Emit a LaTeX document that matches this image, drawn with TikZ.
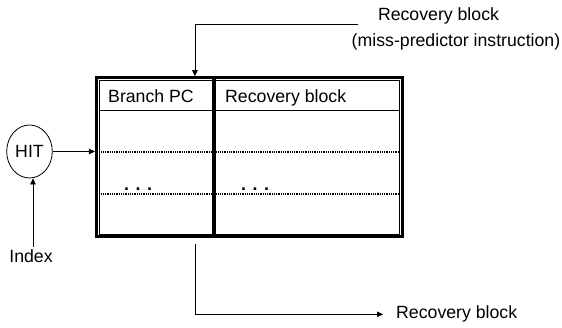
\documentclass[tikz,border=0pt]{standalone}
\usepackage{fontspec}
\setmainfont{Liberation Sans}
\usetikzlibrary{arrows.meta}
\usetikzlibrary{positioning}
\usetikzlibrary{shapes.geometric}

\begin{document}
\begin{tikzpicture}[
    x=1pt, y=-1pt,
    font=\fontsize{17.7}{20}\selectfont,
    frame/.style={
        rectangle,
        draw,
        line width=3.2pt,
        minimum width=305.8pt,
        minimum height=159pt,
        inner sep=0pt
    },
    innerframe/.style={
        rectangle,
        draw,
        line width=0.9pt,
        minimum width=300.2pt,
        minimum height=153.4pt,
        inner sep=0pt
    },
    hitbox/.style={
        ellipse,
        draw,
        line width=0.8pt,
        minimum width=45.6pt,
        minimum height=53pt,
        inner sep=0pt
    },
    label/.style={
        inner sep=0pt
    },
    dotrow/.style={
        dash pattern=on 1pt off 0.8pt
    }
]
    \useasboundingbox (0,0) rectangle (562,327);

    % Tabla
    \node (tbl) [frame] at (249.4,157.3) {};
    \node (tblin) [innerframe] at (249.4,157.3) {};
    \draw [line width=1.6pt] (99.3,110.5) -- (399.5,110.5);
    \draw [dotrow, line width=1.7pt] (99.3,152) -- (399.5,152);
    \draw [dotrow, line width=1.1pt] (99.3,194) -- (399.5,194);
    \draw [line width=3.2pt] (214,77.8) -- (214,236.8);

    \node (pc) [label, anchor=base west] at (108,102.5) {Branch PC};
    \node (rb) [label, anchor=base west] at (225,102.5) {Recovery block};
    \node (dotsa) [label, anchor=base] at (138,190) {\textbf{. . .}};
    \node (dotsb) [label, anchor=base] at (255,190) {\textbf{. . .}};

    \node (hit) [hitbox] at (29.5,151.5) {HIT};
    \node (index) [label, anchor=base] at (31,262.7) {Index};

    \node (rbtop) [label, anchor=base] at (438.5,20.7) {Recovery block};
    \node (rbnote) [label, anchor=base] at (456,46.7) {(miss-predictor instruction)};
    \coordinate (rbin) at (358,24.3);

    \coordinate (rbend) at (383,314.3);
    \node (rbout) [label, right=13pt of rbend] {Recovery block};

    % Conexiones con flechas
    \draw [-{Triangle[length=6pt,width=5.5pt]}, line width=0.8pt] (hit) -- (hit -| tbl.west);
    \draw [-{Triangle[length=6pt,width=5.5pt]}, line width=0.8pt] ([xshift=2pt,yshift=3pt]index.north) -- ([xshift=2pt]index.north |- hit.south);
    \draw [-{Triangle[length=6pt,width=5.5pt]}, line width=0.8pt] (rbin) -| ([xshift=100pt]tbl.north west);
    \draw [-{Triangle[length=6pt,width=5.5pt]}, line width=0.8pt] ([xshift=100pt,yshift=-6pt]tbl.south west) |- (rbend);
\end{tikzpicture}
\end{document}
